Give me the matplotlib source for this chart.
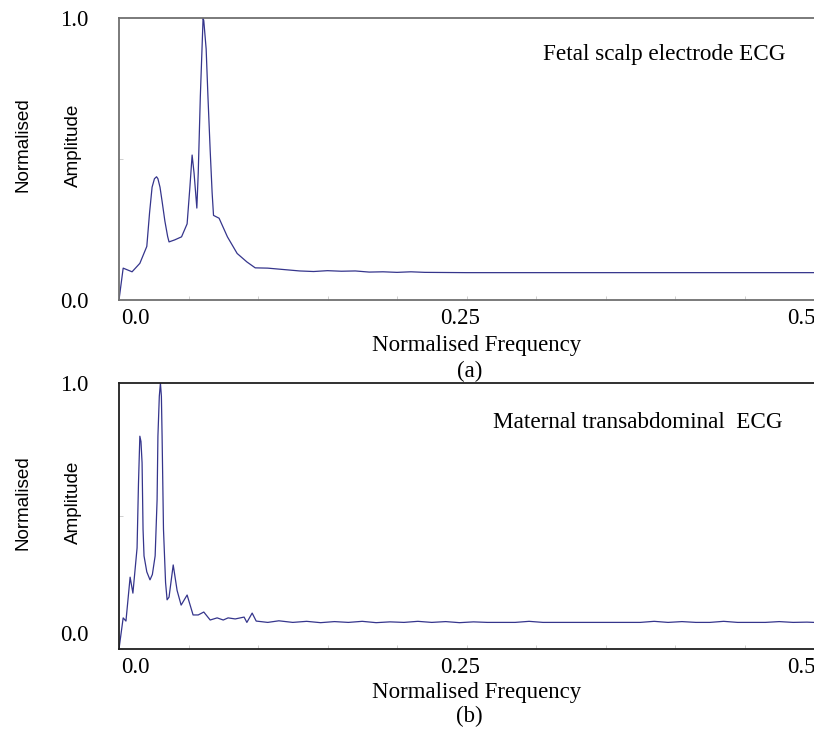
import matplotlib
matplotlib.use("Agg")
import matplotlib.pyplot as plt
import numpy as np

# spectrum (a): fetal scalp electrode ECG
freq_a = [0.0, 0.003, 0.0094, 0.015, 0.020, 0.022, 0.0238, 0.0255, 0.027, 0.028,
          0.0295, 0.031, 0.033, 0.035, 0.036, 0.040, 0.045, 0.049, 0.051, 0.0526,
          0.054, 0.056, 0.057, 0.0585, 0.060, 0.0605, 0.061, 0.0627, 0.064, 0.0656,
          0.067, 0.068, 0.072, 0.078, 0.085, 0.092, 0.098, 0.107, 0.130,
          0.14, 0.15, 0.16, 0.17, 0.18, 0.19, 0.20, 0.21, 0.22, 0.25, 0.30, 0.35,
          0.40, 0.45, 0.50]
amp_a = [0.0, 0.113, 0.10, 0.13, 0.19, 0.31, 0.40, 0.43, 0.437, 0.43,
         0.40, 0.35, 0.28, 0.225, 0.206, 0.213, 0.224, 0.27, 0.40, 0.514,
         0.45, 0.326, 0.45, 0.72, 0.93, 1.0, 0.99, 0.89, 0.72, 0.53,
         0.38, 0.30, 0.29, 0.224, 0.165, 0.135, 0.114, 0.113, 0.103,
         0.101, 0.104, 0.102, 0.103, 0.099, 0.100, 0.098, 0.100, 0.098, 0.097, 0.097, 0.097,
         0.097, 0.097, 0.097]

# spectrum (b): maternal transabdominal ECG
freq_b = [0.0, 0.003, 0.005, 0.008, 0.010, 0.013, 0.014, 0.015, 0.0158, 0.0166,
          0.0173, 0.018, 0.020, 0.0223, 0.024, 0.026, 0.0274, 0.028, 0.029, 0.0298,
          0.0305, 0.031, 0.032, 0.0335, 0.0346, 0.036, 0.039, 0.0418, 0.0447,
          0.049, 0.0533, 0.057, 0.061, 0.0656, 0.0706, 0.075, 0.0785, 0.0836, 0.090,
          0.092, 0.0958, 0.0987, 0.107, 0.115, 0.125, 0.135, 0.145, 0.155, 0.165,
          0.175, 0.185, 0.195, 0.205, 0.215, 0.225, 0.235, 0.245, 0.255, 0.265,
          0.275, 0.285, 0.295, 0.305, 0.315, 0.325, 0.335, 0.345, 0.355, 0.365,
          0.375, 0.385, 0.395, 0.405, 0.415, 0.425, 0.435, 0.445, 0.455, 0.465,
          0.475, 0.485, 0.495, 0.50]
amp_b = [0.0, 0.117, 0.105, 0.27, 0.21, 0.38, 0.62, 0.80, 0.78, 0.70,
         0.45, 0.35, 0.29, 0.26, 0.28, 0.35, 0.56, 0.80, 0.95, 1.0,
         0.95, 0.80, 0.45, 0.25, 0.185, 0.195, 0.316, 0.22, 0.165,
         0.203, 0.128, 0.128, 0.139, 0.109, 0.117, 0.109, 0.117, 0.113, 0.12,
         0.10, 0.135, 0.105, 0.10, 0.106, 0.100, 0.104, 0.099, 0.103, 0.100,
         0.104, 0.099, 0.102, 0.100, 0.104, 0.100, 0.103, 0.099, 0.102, 0.100,
         0.100, 0.100, 0.104, 0.100, 0.100, 0.100, 0.100, 0.100, 0.100, 0.100,
         0.100, 0.104, 0.100, 0.103, 0.100, 0.100, 0.104, 0.100, 0.100, 0.100,
         0.103, 0.100, 0.101, 0.100]

xtick_pos = [0.0115, 0.2457, 0.4906]
xtick_labels = ["0.0", "0.25", "0.5"]

serif = "Liberation Serif"
sans = "Liberation Sans"
line_color = "#35358c"

fig = plt.figure(figsize=(8.14, 7.40), dpi=100)
ax_a = fig.add_axes([119 / 814, 1 - 300 / 740, 695 / 814, 282 / 740])
ax_b = fig.add_axes([119 / 814, 1 - 649 / 740, 695 / 814, 266 / 740])

panels = [
    (ax_a, freq_a, amp_a, "Fetal scalp electrode ECG", (0.61, 0.869), "(a)", "#707070", [0.0, 1.0]),
    (ax_b, freq_b, amp_b, "Maternal transabdominal  ECG", (0.538, 0.85), "(b)", "#202020", [0.06, 1.0]),
]

for ax, f, a, title, tpos, tag, spine_col, ylab_pos in panels:
    ax.plot(f, a, color=line_color, lw=0.9)
    ax.set_xlim(0, 0.5)
    ax.set_ylim(0, 1.0)
    for s in ["left", "top", "bottom"]:
        ax.spines[s].set_color(spine_col)
        ax.spines[s].set_linewidth(1.3)
    ax.spines["right"].set_visible(False)

    # labelled ticks carry no mark; the small marks are minor ticks
    ax.set_xticks(xtick_pos, xtick_labels)
    ax.set_yticks(ylab_pos, ["0.0", "1.0"])
    ax.set_xticks(np.arange(0, 0.51, 0.05), minor=True)
    ax.set_yticks([0, 0.5, 1.0], minor=True)
    ax.tick_params(which="major", length=0)
    ax.tick_params(axis="x", which="major", pad=6, labelsize=16.5)
    ax.tick_params(axis="y", which="major", pad=22, labelsize=16.5)
    ax.tick_params(which="minor", direction="in", length=3, color="#c8c8c8")
    for lab in ax.get_xticklabels() + ax.get_yticklabels():
        lab.set_fontfamily(serif)

    ax.set_xlabel("Normalised Frequency", fontfamily=serif, fontsize=16.5)
    ax.xaxis.set_label_coords(0.514, -0.125)
    ax.set_ylabel("Amplitude", fontfamily=sans, fontsize=13.6)
    ax.yaxis.set_label_coords(-0.053, 0.55)
    ax.text(-0.138, 0.55, "Normalised", transform=ax.transAxes, rotation=90,
            ha="center", va="center", fontfamily=sans, fontsize=13.6)
    ax.text(0.504, -0.255, tag, transform=ax.transAxes, ha="center", va="center",
            fontfamily=serif, fontsize=16.5)
    ax.text(tpos[0], tpos[1], title, transform=ax.transAxes, ha="left", va="center",
            fontfamily=serif, fontsize=16.7)

fig.savefig("out.png", dpi=100)
